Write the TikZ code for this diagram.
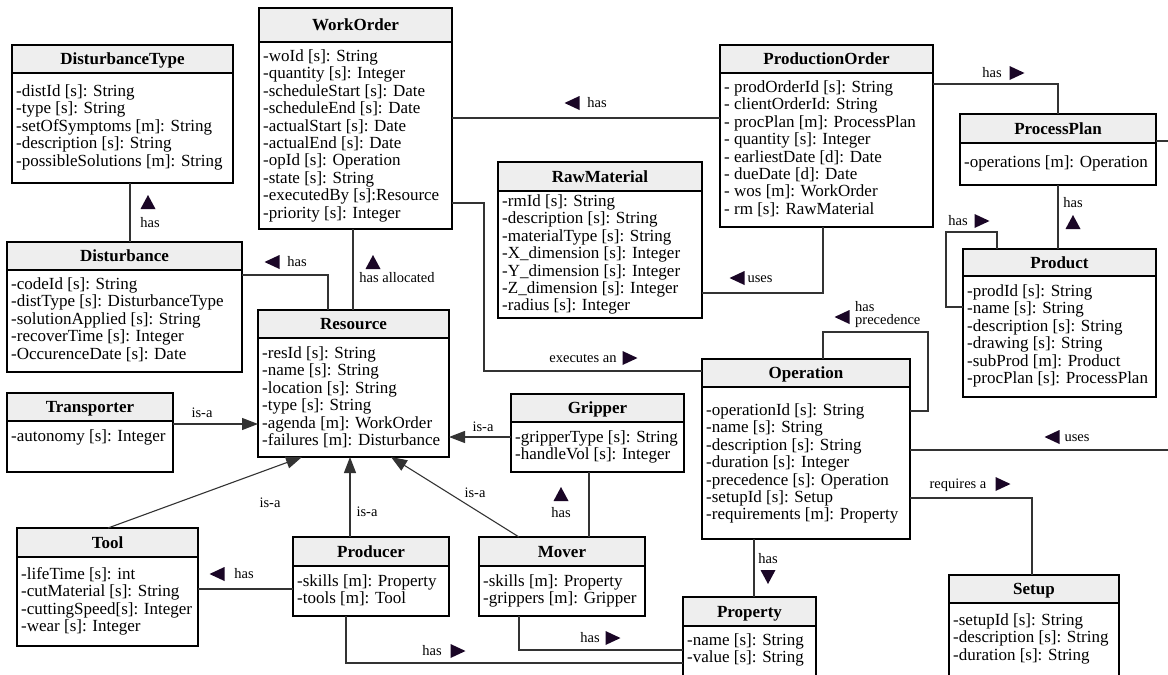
\documentclass[tikz,border=0pt]{standalone}
\usepackage{fontspec}
\setmainfont{Liberation Serif}
\usetikzlibrary{arrows.meta,fit}

\definecolor{hdr}{HTML}{EEEEEE}
\definecolor{markc}{RGB}{26,6,38}
\definecolor{linkc}{HTML}{333333}

\tikzset{
  boxline/.style={draw=black, line width=1.1pt},
  link/.style={draw=linkc, line width=1.1pt},
  isa/.style={link, -{Triangle[length=16pt,width=12pt]}},
  ttl/.style={font=\fontsize{17}{17}\selectfont\bfseries, inner sep=0pt, anchor=base},
  attr/.style={font=\fontsize{17}{17}\selectfont, inner sep=0pt, anchor=base west},
  lbl/.style={font=\fontsize{14.5}{14.5}\selectfont, inner sep=0pt, anchor=base},
  lblw/.style={lbl, anchor=base west},
  tri left/.pic={\fill[markc] (-7.5,0) -- (7.5,-7) -- (7.5,7) -- cycle;},
  tri right/.pic={\fill[markc] (7.5,0) -- (-7.5,-7) -- (-7.5,7) -- cycle;},
  tri up/.pic={\fill[markc] (0,-7) -- (-7.5,7) -- (7.5,7) -- cycle;},
  tri down/.pic={\fill[markc] (0,7) -- (-7.5,-7) -- (7.5,-7) -- cycle;},
}

% #1 name, #2 left, #3 top, #4 right, #5 bottom, #6 header bottom,
% #7 first attribute baseline, #8 title, #9 attribute lines
\newcommand\umlclass[9]{%
  \node[fit={(#2,#3) (#4,#5)}, inner sep=0pt, outer sep=0pt] (#1) {};
  \fill[hdr] (#1.north west) rectangle (#1.east |- 0,#6);
  \draw[boxline] (#1.north west) rectangle (#1.south east);
  \draw[boxline] (#1.west |- 0,#6) -- (#1.east |- 0,#6);
  \node[ttl] (#1-t) at ({(#2+#4)/2},{(#3+#6)/2+5.5}) {#8};
  \foreach \attrline [count=\i] in {#9}
    \node[attr] (#1-\i) at (#2+4, {#7+(\i-1)*17.4}) {\attrline};
}

\begin{document}
\begin{tikzpicture}[x=1pt, y=-1pt]
\path[use as bounding box] (0,0) rectangle (1168,675);
\fill[white] (0,0) rectangle (1168,675);
\clip (0,0) rectangle (1168,675);

% ---------- classes ----------
\umlclass{dt}{12}{45}{233}{183}{73}{96.5}{DisturbanceType}
  {-distId [s]: String, -type [s]: String, -setOfSymptoms [m]: String,
   -description [s]: String, -possibleSolutions [m]: String}

\umlclass{wo}{259}{8}{452}{229}{42}{61.5}{WorkOrder}
  {-woId [s]: String, -quantity [s]: Integer, -scheduleStart [s]: Date,
   -scheduleEnd [s]: Date, -actualStart [s]: Date, -actualEnd [s]: Date,
   -opId [s]: Operation, -state [s]: String, -executedBy [s]:Resource,
   -priority [s]: Integer}

\umlclass{po}{720}{45}{933}{227}{73}{92.5}{ProductionOrder}
  {- prodOrderId [s]: String, - clientOrderId: String,
   - procPlan [m]: ProcessPlan, - quantity [s]: Integer,
   - earliestDate [d]: Date, - dueDate [d]: Date,
   - wos [m]: WorkOrder, - rm [s]: RawMaterial}

\umlclass{pp}{960}{114}{1156}{185}{143}{167.5}{ProcessPlan}
  {-operations [m]: Operation}

\umlclass{pr}{963}{249}{1156}{397}{276}{296.5}{Product}
  {-prodId [s]: String, -name [s]: String, -description [s]: String,
   -drawing [s]: String, -subProd [m]: Product, -procPlan [s]: ProcessPlan}

\umlclass{rm}{498}{162}{702}{318}{191}{206.5}{RawMaterial}
  {-rmId [s]: String, -description [s]: String, -materialType [s]: String,
   -X\_dimension [s]: Integer, -Y\_dimension [s]: Integer,
   -Z\_dimension [s]: Integer, -radius [s]: Integer}

\umlclass{di}{7}{242}{242}{372}{270}{289.5}{Disturbance}
  {-codeId [s]: String, -distType [s]: DisturbanceType,
   -solutionApplied [s]: String, -recoverTime [s]: Integer,
   -OccurenceDate [s]: Date}

\umlclass{re}{258}{310}{449}{457}{338}{358.5}{Resource}
  {-resId [s]: String, -name [s]: String, -location [s]: String,
   -type [s]: String, -agenda [m]: WorkOrder, -failures [m]: Disturbance}

\umlclass{tr}{7}{393}{173}{472}{421}{441.5}{Transporter}
  {-autonomy [s]: Integer}

\umlclass{gr}{511}{394}{684}{472}{422}{442.5}{Gripper}
  {-gripperType [s]: String, -handleVol [s]: Integer}

\umlclass{op}{702}{359}{910}{539}{387}{415.5}{Operation}
  {-operationId [s]: String, -name [s]: String, -description [s]: String,
   -duration [s]: Integer, -precedence [s]: Operation, -setupId [s]: Setup,
   -requirements [m]: Property}

\umlclass{to}{17}{528}{198}{646}{557}{579.5}{Tool}
  {-lifeTime [s]: int, -cutMaterial [s]: String,
   -cuttingSpeed[s]: Integer, -wear [s]: Integer}

\umlclass{pd}{293}{537}{449}{616}{566}{586}{Producer}
  {-skills [m]: Property, -tools [m]: Tool}

\umlclass{mv}{479}{537}{645}{616}{566}{586}{Mover}
  {-skills [m]: Property, -grippers [m]: Gripper}

\umlclass{su}{949}{575}{1119}{700}{603}{625.5}{Setup}
  {-setupId [s]: String, -description [s]: String, -duration [s]: String}

\umlclass{py}{683}{597}{816}{700}{626}{645.5}{Property}
  {-name [s]: String, -value [s]: String}

\coordinate (ppout) at (1170,141);
\coordinate (opout) at (1170,450);

% ---------- associations ----------
\draw[link] (dt.south -| 130,0) -- (di.north -| 130,0);
\pic at (148,202) {tri up};
\node[lbl] (l-dt) at (150,227.5) {has};

\draw[link] (wo.south -| 353,0) -- (re.north -| 353,0);
\pic at (373,262) {tri up};
\node[lbl] (l-wo) at (397,282.5) {has allocated};

\draw[link] (di.east |- 0,275) -| (re.north -| 328,0);
\pic at (272,262) {tri left};
\node[lbl] (l-di) at (297,266.5) {has};

\draw[link] (wo.east |- 0,118) -- (po.west |- 0,118);
\pic at (572,103) {tri left};
\node[lbl] (l-po) at (597,107.5) {has};

\draw[link] (wo.east |- 0,203) -- (484,203) -- (484,371) -- (op.west |- 0,371);
\pic at (630,358) {tri right};
\node[lbl] (l-ex) at (583,362.5) {executes an};

\draw[link] (po.east |- 0,84) -| (pp.north -| 1058,0);
\pic at (1017,73) {tri right};
\node[lbl] (l-pp) at (992,77.5) {has};

\draw[link] (pp.east |- 0,141) -- (ppout);

\draw[link] (pp.south -| 1058,0) -- (pr.north -| 1058,0);
\pic at (1073,222) {tri up};
\node[lbl] (l-pr) at (1073,207.5) {has};

\draw[link] (pr.north -| 997,0) |- (946,232) |- (pr.west |- 0,307);
\pic at (982,221) {tri right};
\node[lbl] (l-sub) at (958,225.5) {has};

\draw[link] (po.south -| 823,0) |- (rm.east |- 0,293);
\pic at (737,278) {tri left};
\node[lbl] (l-rm) at (760,282.5) {uses};

\draw[link] (op.north -| 823,0) |- (928,332) |- (op.east |- 0,411);
\pic at (842,317) {tri left};
\node[lblw] (l-prec1) at (855,311) {has};
\node[lblw] (l-prec2) at (855,324.5) {precedence};

\draw[link] (op.east |- 0,450) -- (opout);
\pic at (1052,437) {tri left};
\node[lbl] (l-us) at (1077,441.5) {uses};

\draw[link] (op.east |- 0,498) -| (su.north -| 1032,0);
\pic at (1003,484) {tri right};
\node[lbl] (l-su) at (958,488.5) {requires a};

\draw[link] (op.south -| 754,0) -- (py.north -| 754,0);
\pic at (768,577) {tri down};
\node[lbl] (l-py) at (768,563.5) {has};

\draw[link] (gr.south -| 589,0) -- (mv.north -| 589,0);
\pic at (561,494) {tri up};
\node[lbl] (l-gr) at (561,517.5) {has};

\draw[link] (pd.west |- 0,589) -- (to.east |- 0,589);
\pic at (217,574) {tri left};
\node[lbl] (l-to) at (244,578.5) {has};

\draw[link] (pd.south -| 346,0) |- (py.west |- 0,663);
\pic at (458,651) {tri right};
\node[lbl] (l-pd) at (432,655.5) {has};

\draw[link] (mv.south -| 519,0) |- (py.west |- 0,650);
\pic at (613,638) {tri right};
\node[lbl] (l-mv) at (590,642.5) {has};

% ---------- generalisations ----------
\draw[isa] (tr.east |- 0,424) -- (re.west |- 0,424);
\node[lbl] (i-tr) at (202,417.5) {is-a};

\draw[isa] (gr.west |- 0,437) -- (re.east |- 0,437);
\node[lbl] (i-gr) at (483,431.5) {is-a};

\draw[isa] (to.north -| 108,0) -- (re.south -| 302,0);
\node[lbl] (i-to) at (270,507.5) {is-a};

\draw[isa] (pd.north -| 350,0) -- (re.south -| 350,0);
\node[lbl] (i-pd) at (367,516.5) {is-a};

\draw[isa] (mv.north -| 519,0) -- (re.south -| 391,0);
\node[lbl] (i-mv) at (475,497.5) {is-a};
\end{tikzpicture}
\end{document}
